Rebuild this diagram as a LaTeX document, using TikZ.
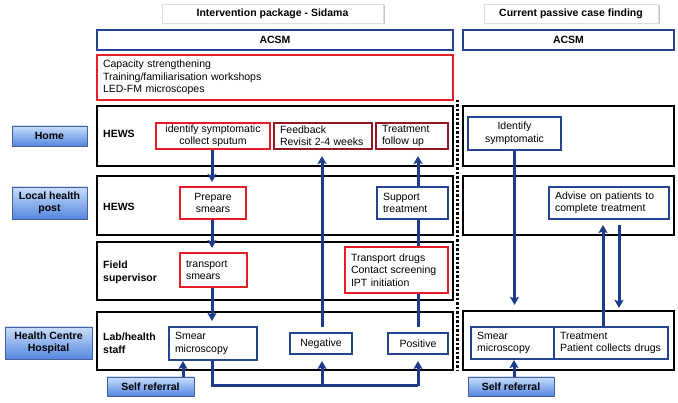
\documentclass[tikz,border=0pt]{standalone}
\usepackage{fontspec}
\setmainfont{Liberation Sans}
\usetikzlibrary{arrows.meta,shadows}
\definecolor{boxred}{RGB}{228,30,38}
\definecolor{boxmaroon}{RGB}{148,24,34}
\definecolor{boxblue}{RGB}{38,68,148}
\definecolor{flowblue}{RGB}{30,58,138}
\definecolor{sidetop}{RGB}{200,222,252}
\definecolor{sidebot}{RGB}{85,135,224}
\definecolor{sideline}{RGB}{70,95,150}
\newcommand{\boxfont}{\fontsize{10.5}{12.5}\selectfont}
\tikzset{
  >={Stealth[length=8pt,width=9pt,inset=1.5pt]},
  every node/.style={font=\boxfont},
  hdr/.style={fill=white,draw=gray!25,font=\boxfont\bfseries,
    drop shadow={shadow xshift=1.5pt,shadow yshift=-1.5pt,opacity=0.45}},
  acsm/.style={draw=boxblue,line width=2pt,font=\boxfont\bfseries},
  row/.style={draw=black,line width=2.2pt},
  rowlbl/.style={anchor=west,inner sep=0pt,align=left,font=\boxfont\bfseries},
  side/.style={draw=sideline,line width=0.6pt,top color=sidetop,bottom color=sidebot,
    align=center,font=\boxfont\bfseries,
    drop shadow={shadow xshift=1.2pt,shadow yshift=-1.2pt,opacity=0.35}},
  redbox/.style={draw=boxred,line width=2pt,fill=white},
  darkbox/.style={draw=boxmaroon,line width=2pt,fill=white},
  bluebox/.style={draw=boxblue,line width=2pt,fill=white},
  lefttext/.style={align=left,inner xsep=6pt},
  flow/.style={draw=flowblue,line width=3pt,->},
  bus/.style={draw=flowblue,line width=3pt},
}
\begin{document}
\begin{tikzpicture}[x=1pt,y=-1pt]
\useasboundingbox (0,0) rectangle (678,403);
% column headings
\node[hdr,minimum width=221pt,minimum height=19pt] (hdrA) at (272.5,13.5) {Intervention package - Sidama};
\node[hdr,minimum width=174pt,minimum height=19pt] (hdrB) at (571,13.5) {Current passive case finding};
\node[acsm,minimum width=356pt,minimum height=20pt] (acsmA) at (275,40) {ACSM};
\node[acsm,minimum width=211pt,minimum height=20pt] (acsmB) at (568.5,40) {ACSM};
\node[redbox,lefttext,text width=344pt,minimum height=45pt] (capA) at (275,77.5)
  {Capacity strengthening\\Training/familiarisation workshops\\LED-FM microscopes};

% rows
\node[row,minimum width=356pt,minimum height=60pt] (homeA) at (275,136) {};
\node[row,minimum width=356pt,minimum height=59pt] (localA) at (275,205.5) {};
\node[row,minimum width=356pt,minimum height=58pt] (fieldA) at (275,271) {};
\node[row,minimum width=356pt,minimum height=58pt] (labA) at (275,341) {};
\node[row,minimum width=211pt,minimum height=60pt] (homeB) at (568.5,136) {};
\node[row,minimum width=211pt,minimum height=59pt] (localB) at (568.5,205.5) {};
\node[row,minimum width=211pt,minimum height=59pt] (labB) at (568.5,340.5) {};
\draw[line width=3pt,dash pattern=on 2.5pt off 2pt] (457,100) -- (457,371);

\node[rowlbl] (hewsA) at (103,134) {HEWS};
\node[rowlbl] (hewsB) at (103,207) {HEWS};
\node[rowlbl] (fieldlbl) at (103,272.5) {Field\\supervisor};
\node[rowlbl] (lablbl) at (103,343) {Lab/health\\staff};

% levels
\node[side,minimum width=75pt,minimum height=20pt] (home) at (49.5,136) {Home};
\node[side,minimum width=75pt,minimum height=32pt,inner sep=1pt] (localpost) at (49.5,203) {Local health\\post};
\node[side,minimum width=87pt,minimum height=32pt,inner sep=1pt] (hc) at (48.5,343) {Health Centre\\Hospital};

% intervention
\node[redbox,align=center,minimum width=114pt,minimum height=26pt,inner sep=1pt] (identify) at (213,136) {identify symptomatic\\collect sputum};
\node[darkbox,lefttext,text width=86pt,minimum height=26pt,inner ysep=1pt] (feedback) at (323,136) {Feedback\\Revisit 2-4 weeks};
\node[darkbox,lefttext,text width=60pt,minimum height=26pt,inner ysep=1pt] (followup) at (412,136) {Treatment\\follow up};
\node[redbox,align=center,minimum width=66pt,minimum height=32pt] (prepare) at (213,203) {Prepare\\smears};
\node[bluebox,lefttext,text width=59pt,minimum height=32pt] (support) at (412.5,203) {Support\\treatment};
\node[redbox,lefttext,text width=55pt,minimum height=34pt] (transport) at (213.5,270) {transport\\smears};
\node[bluebox,lefttext,text width=76pt,minimum height=33pt] (smearA) at (213,343.5) {Smear\\microscopy};
\node[bluebox,minimum width=62pt,minimum height=21pt] (negative) at (321,343.5) {Negative};
\node[bluebox,minimum width=60pt,minimum height=21pt] (positive) at (418,343.5) {Positive};
\node[side,minimum width=87pt,minimum height=19pt,inner sep=1pt] (selfA) at (150.5,386.5) {Self referral};

\draw[bus] ([yshift=5pt]positive.north) -- (positive.north |- support.south);
\node[redbox,lefttext,text width=91pt,minimum height=46pt] (drugs) at (396.5,270)
  {Transport drugs\\Contact screening\\IPT initiation};

\draw[flow,shorten >=4pt] ([xshift=-1pt]identify.south) -- ([xshift=-1pt]prepare.north);
\draw[flow,shorten >=4pt] ([xshift=-1pt]prepare.south) -- ([xshift=-1.5pt]transport.north);
\draw[flow,shorten >=5pt] ([xshift=-1.5pt]transport.south) -- ([xshift=-1pt]smearA.north);
\draw[flow] ([xshift=32.5pt]selfA.north) -- ([xshift=32.5pt]selfA.north |- smearA.south);
\coordinate (busL) at ([xshift=-1pt]smearA.south |- 0,386);
\coordinate (busR) at (positive.south |- busL);
\draw[bus] ([xshift=-1pt]smearA.south) -- (busL) -- (busR);
\draw[flow,shorten >=6pt] (busR) -- (positive.south);
\draw[flow,shorten >=6pt] ([xshift=1pt]negative.south |- busL) -- ([xshift=1pt]negative.south);
\draw[flow,shorten <=5pt,shorten >=6pt] ([xshift=1pt]negative.north) -- ([xshift=1pt]negative.north |- feedback.south);
\draw[flow,shorten >=6pt] (positive.north |- support.north) -- (positive.north |- followup.south);

% passive case finding
\node[bluebox,align=center,minimum width=93pt,minimum height=33pt] (identB) at (514.5,133.5) {Identify\\symptomatic};
\node[bluebox,lefttext,text width=108pt,minimum height=32pt] (advise) at (609,203) {Advise on patients to\\complete treatment};
\node[bluebox,lefttext,text width=71pt,minimum height=32pt] (smearB) at (512.5,343) {Smear\\microscopy};
\node[bluebox,lefttext,text width=102pt,minimum height=32pt] (treatB) at (611,343) {Treatment\\Patient collects drugs};
\node[side,minimum width=86pt,minimum height=19pt,inner sep=1pt] (selfB) at (511,386.5) {Self referral};

\draw[flow,shorten >=5pt] (identB.south) -- (identB.south |- labB.north);
\draw[flow,shorten >=5pt] ([xshift=-8pt]treatB.north) -- ([xshift=-8pt]treatB.north |- advise.south);
\draw[flow,shorten <=5pt,shorten >=2pt] ([xshift=8pt]treatB.north |- advise.south) -- ([xshift=8pt]treatB.north |- labB.north);
\draw[flow] ([xshift=3pt]selfB.north) -- ([xshift=3pt]selfB.north |- smearB.south);
\end{tikzpicture}
\end{document}
